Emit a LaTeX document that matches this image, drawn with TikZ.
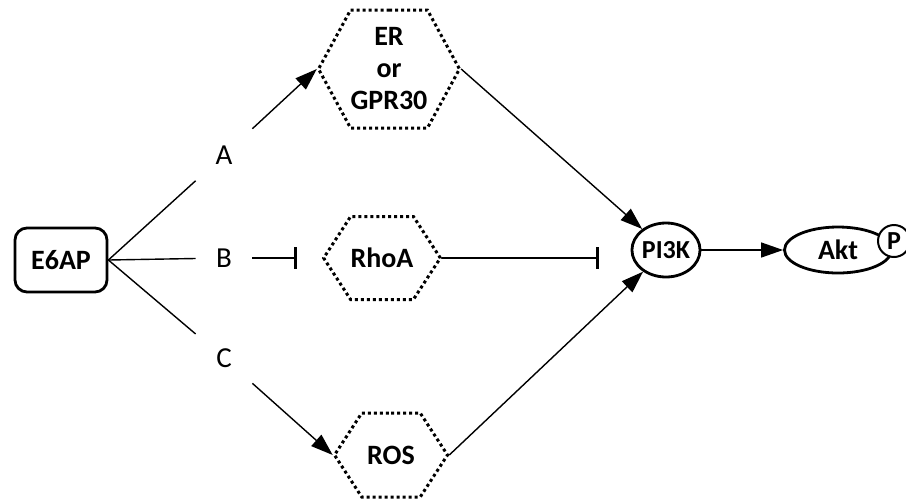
\documentclass[tikz,border=0pt]{standalone}
\usepackage{fontspec}
\setmainfont{Carlito}
\usetikzlibrary{shapes.geometric,shapes.symbols,arrows.meta}

\begin{document}
\begin{tikzpicture}[
    x=0.5pt, y=-0.5pt,
    hexbox/.style={draw, signal, signal to=east and west, signal pointer angle=#1,
                   line width=1.5pt, dash pattern=on 1.5pt off 1.5pt,
                   inner sep=0pt, align=center, font=\fontsize{14}{16}\selectfont\bfseries},
    hexbox/.default=114,
    branch/.style={minimum width=28pt, minimum height=27pt, inner sep=0pt,
                   font=\fontsize{14.5}{16}\selectfont},
    solid node/.style={draw, line width=1.4pt, inner sep=0pt,
                   font=\fontsize{14}{16}\selectfont\bfseries},
    arrow/.style={-{Triangle[length=11pt,width=7.5pt]}, line width=0.7pt},
    inhibit/.style={-{Bar[width=11pt,line width=1.2pt]}, line width=0.7pt},
    link/.style={line width=0.7pt}
]
    \useasboundingbox (0,0) rectangle (906,500);

    % --- Source ---
    \node[solid node, rounded corners=6pt, minimum width=46pt, minimum height=32pt] (e6ap) at (61,260) {E6AP};

    % --- Branches ---
    \node[branch] (lblA) at (224,155) {A};
    \node[branch] (lblB) at (224,258) {B};
    \node[branch] (lblC) at (224,358) {C};

    % --- Mediators ---
    \node[hexbox=123, minimum width=64pt, minimum height=59pt] (er) at (389,69) {ER\\or\\GPR30};
    \node[hexbox, minimum width=55pt, minimum height=41.5pt] (rhoa) at (382,258) {RhoA};
    \node[hexbox, minimum width=56.5pt, minimum height=42pt] (ros) at (391,455) {ROS};

    % --- Targets ---
    \node[solid node, ellipse, minimum width=31pt, minimum height=27pt,
          font=\fontsize{13}{15}\selectfont\bfseries] (pi3k) at (666,250) {PI3K};
    \node[solid node, ellipse, minimum width=53.5pt, minimum height=23pt] (akt) at (838,250) {Akt};
    \node[draw, circle, fill=white, line width=1pt, minimum size=16pt, inner sep=0pt,
          font=\fontsize{13}{15}\selectfont\bfseries] (phos) at (894,241) {P};

    \draw[link] (e6ap.east) -- (lblA);
    \draw[arrow] (lblA) -- (er.west);
    \draw[link] (e6ap.east) -- (lblB);
    \draw[inhibit, shorten >=12.5pt] (lblB) -- (rhoa.west);
    \draw[link] (e6ap.east) -- (lblC);
    \draw[arrow] (lblC) -- (ros.west);

    \draw[arrow] (er.east) -- (pi3k);
    \draw[inhibit, shorten >=16pt] (rhoa.east) -- (rhoa.east -| pi3k.west);
    \draw[arrow] (ros.east) -- (pi3k);
    \draw[arrow] (pi3k) -- (akt);
\end{tikzpicture}
\end{document}
